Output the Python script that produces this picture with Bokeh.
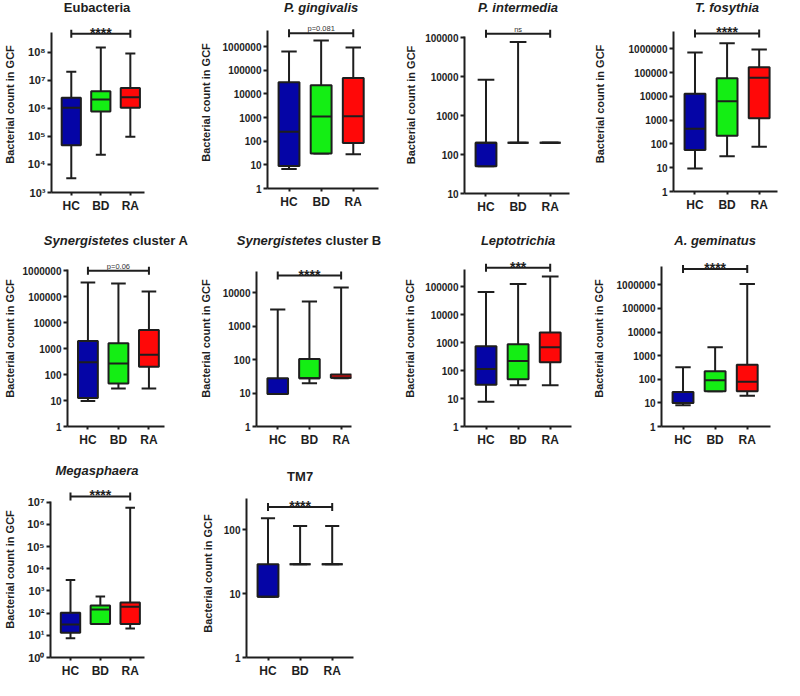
import math
from bokeh.plotting import figure
from bokeh.layouts import column, row
from bokeh.models import Range1d, FixedTicker
from bokeh.core.properties import value
from bokeh.embed import file_html
from bokeh.resources import INLINE

# ---------------- data ----------------
groups = ["HC", "BD", "RA"]
group_colors = ["#0505A6", "#14EE14", "#FF0808"]

titles = ["Eubacteria", "P. gingivalis", "P. intermedia", "T. fosythia",
          "Synergistetes cluster A", "Synergistetes cluster B", "Leptotrichia",
          "A. geminatus", "Megasphaera", "TM7"]

whisker_low = [
    [3200, 22000, 97000],
    [6.6, 30, 28],
    [50, 200, 200],
    [9.3, 30, 76],
    [9.5, 29, 29],
    [9.4, 19.6, 28],
    [7.6, 30, 30],
    [8, 31, 20],
    [7.3, 32, 20],
    [9, 29, 29],
]
q1 = [
    [48000, 770000, 1.05e6],
    [9, 30, 85],
    [50, 200, 200],
    [56, 220, 1200],
    [12.6, 45, 200],
    [9.4, 28, 29],
    [31, 49, 200],
    [10, 31, 31],
    [13, 32, 32],
    [9, 29, 29],
]
median = [
    [1.05e6, 2.05e6, 2.47e6],
    [250, 1100, 1150],
    [200, 200, 200],
    [430, 6200, 61000],
    [300, 265, 585],
    [9.4, 28, 29],
    [115, 218, 690],
    [10, 91, 79],
    [31, 145, 195],
    [9, 29, 29],
]
q3 = [
    [2.35e6, 4.0e6, 5.3e6],
    [31000, 23000, 47000],
    [200, 200, 200],
    [12700, 57000, 166000],
    [1950, 1600, 5250],
    [28, 105, 36],
    [740, 870, 2280],
    [29, 220, 415],
    [105, 220, 300],
    [29, 29, 29],
]
whisker_high = [
    [2.0e7, 1.45e8, 8.8e7],
    [630000, 1.8e6, 930000],
    [8300, 77000, 200],
    [690000, 1.7e6, 940000],
    [350000, 320000, 160000],
    [3200, 5500, 14500],
    [65000, 126000, 230000],
    [320, 2280, 1.07e6],
    [3100, 560, 5.6e6],
    [152, 115, 115],
]
sig_labels = ["****", "p=0.081", "ns", "****", "p=0.06", "****", "***", "****", "****", "****"]
sig_level = [4.5e8, 3.7e6, 1.26e5, 4.4e6, 1.0e6, 3.3e4, 4.8e5, 4.6e6, 1.8e7, 229]

y_tick_lo = [3, 0, 1, 0, 0, 0, 0, 0, 0, 0]   # exponent of lowest tick
y_tick_hi = [8, 6, 5, 6, 6, 4, 5, 6, 7, 2]   # exponent of highest tick
y_tick_power = [True, False, False, False, False, False, False, False, True, False]

y_label = "Bacterial count in GCF"

# ---------------- layout / style ----------------
SUP = str.maketrans("0123456789", "⁰¹²³⁴⁵⁶⁷⁸⁹")
INK = "#1e1e1e"
FONT = "Liberation Sans"
SX = 0.98
COL_W = 196
ROW_REF_H = [222, 240, 238]
ROW_H = [216, 233, 231]

# row, axis-left, axis-right, axis-bottom (ref px in cell), px per decade,
# title y, axis top exponent, y-label standoff, cap half width, italic title, title strip
layout = [
    (0, 44, 147, 197.0, 28.87, 6.7, 8.68, 9, 0.17, False, 16),
    (0, 72, 185, 193.0, 24.3, 6.7, 6.68, 8, 0.24, True, 16),
    (0, 73, 180, 201.7, 40.75, 6.7, 5.03, 5, 0.26, True, 16),
    (0, 87, 193, 196.7, 24.45, 6.7, 6.72, 20, 0.24, True, 16),
    (1, 63, 167, 219.7, 27.2, 25.0, 6.03, 4, 0.24, True, 34),
    (1, 60, 158, 219.0, 35.0, 25.0, 4.65, 8, 0.24, True, 34),
    (1, 73, 182, 216.0, 28.8, 25.0, 5.60, 6, 0.26, True, 34),
    (1, 74, 185, 216.0, 24.33, 25.0, 6.77, 9, 0.24, True, 34),
    (2, 44, 147, 216.7, 23.13, 21.3, 7.03, 8, 0.16, True, 32),
    (2, 51, 160, 214.7, 65.7, 28.0, 2.49, 7, 0.22, False, 40),
]


def make_panel(i):
    r, axl, axr, axb, dec, t_rel, ax_top, standoff, cap, italic, th = layout[i]
    sy = ROW_H[r] / ROW_REF_H[r]
    H = ROW_H[r]
    left = round(axl * SX)
    fw = round((axr - axl) * SX)
    right = COL_W - left - fw
    fb = round(axb * sy)            # frame bottom within the cell
    fh = fb - th
    bottom = H - fb
    ylo = y_tick_lo[i]
    dpx = dec * sy                  # pixels per decade
    top_exp = ylo + fh / dpx
    x0 = -0.67
    x1 = x0 + (axr - axl) / 32.7

    # ---- title strip ----
    tf = figure(width=COL_W, height=th, x_range=Range1d(0, COL_W), y_range=Range1d(th, 0),
                x_axis_location=None, y_axis_location=None, output_backend="svg",
                toolbar_location=None, min_border_left=0, min_border_right=0,
                min_border_top=0, min_border_bottom=0)
    tf.frame_align = False
    tf.grid.visible = False
    tf.outline_line_color = None
    tf.background_fill_color = "white"
    tf.border_fill_color = "white"
    cx = left + (1 - x0) / (x1 - x0) * fw
    cy = t_rel * sy
    t = titles[i]
    fs = 13
    if "cluster" in t:
        first, rest = t.split(" ", 1)
        w_it = 6.558 * fs
        w_sp = 0.278 * fs
        w_b = 4.279 * fs
        total = w_it + w_sp + w_b
        tf.text(x=[cx - total / 2], y=[cy], text=[first], text_align="left",
                text_baseline="middle", text_font=value(FONT), text_font_size=f"{fs}px",
                text_font_style="bold italic", text_color=INK)
        tf.text(x=[cx - total / 2 + w_it + w_sp], y=[cy], text=[rest], text_align="left",
                text_baseline="middle", text_font=value(FONT), text_font_size=f"{fs}px",
                text_font_style="bold", text_color=INK)
    else:
        tf.text(x=[cx], y=[cy], text=[t], text_align="center", text_baseline="middle",
                text_font=value(FONT), text_font_size=f"{fs}px",
                text_font_style="bold italic" if italic else "bold", text_color=INK)

    # ---- plot ----
    p = figure(width=COL_W, height=H - th, x_range=Range1d(x0, x1),
               y_range=Range1d(10 ** ylo, 10 ** top_exp), y_axis_type="log",
               output_backend="svg", toolbar_location=None,
               min_border_left=left, min_border_right=right,
               min_border_top=0, min_border_bottom=bottom)
    p.frame_align = False
    p.xgrid.visible = False
    p.ygrid.visible = False
    p.outline_line_color = None
    p.background_fill_color = "white"
    p.border_fill_color = "white"

    # y axis
    exps = list(range(y_tick_lo[i], y_tick_hi[i] + 1))
    ticks = [10.0 ** k for k in exps]
    yax = p.yaxis[0]
    yax.ticker = FixedTicker(ticks=ticks)
    if y_tick_power[i]:
        yax.major_label_overrides = {tk: "10" + str(k).translate(SUP) for tk, k in zip(ticks, exps)}
    else:
        yax.major_label_overrides = {tk: str(int(round(tk))) for tk in ticks}
    yax.bounds = (10 ** ylo, 10 ** ax_top)
    yax.axis_label = y_label
    yax.axis_label_text_font = FONT
    yax.axis_label_text_font_style = "bold"
    yax.axis_label_text_font_size = "11px"
    yax.axis_label_text_color = INK
    yax.axis_label_standoff = standoff
    yax.major_label_text_font = FONT
    yax.major_label_text_font_style = "bold"
    yax.major_label_text_font_size = "11px" if y_tick_power[i] else "10px"
    yax.major_label_text_color = INK
    yax.major_label_standoff = 2
    yax.axis_line_width = 2
    yax.axis_line_color = INK
    yax.major_tick_line_width = 2
    yax.major_tick_line_color = INK
    yax.major_tick_out = 4
    yax.major_tick_in = 0
    yax.minor_tick_line_color = None

    # x axis
    xax = p.xaxis[0]
    xax.ticker = FixedTicker(ticks=[0, 1, 2])
    xax.major_label_overrides = {k: g for k, g in enumerate(groups)}
    xax.major_label_text_font = FONT
    xax.major_label_text_font_style = "bold"
    xax.major_label_text_font_size = "12px"
    xax.major_label_text_color = INK
    xax.major_label_standoff = 3
    xax.axis_line_width = 2
    xax.axis_line_color = INK
    xax.major_tick_line_width = 2
    xax.major_tick_line_color = INK
    xax.major_tick_out = 3
    xax.major_tick_in = 0
    xax.minor_tick_line_color = None

    xs = [0, 1, 2]
    bw = 0.65
    lo, a, m, b, hi = whisker_low[i], q1[i], median[i], q3[i], whisker_high[i]
    # whiskers
    p.segment(x0=xs, x1=xs, y0=b, y1=hi, line_color=INK, line_width=2)
    p.segment(x0=xs, x1=xs, y0=lo, y1=a, line_color=INK, line_width=2)
    p.segment(x0=[x - cap for x in xs], x1=[x + cap for x in xs], y0=hi, y1=hi,
              line_color=INK, line_width=2)
    p.segment(x0=[x - cap for x in xs], x1=[x + cap for x in xs], y0=lo, y1=lo,
              line_color=INK, line_width=2)
    # boxes
    p.vbar(x=xs, width=bw, bottom=a, top=b, fill_color=group_colors,
           line_color=INK, line_width=2)
    p.segment(x0=[x - bw / 2 for x in xs], x1=[x + bw / 2 for x in xs], y0=m, y1=m,
              line_color=INK, line_width=2)

    # significance bar
    s = sig_level[i]
    p.segment(x0=[0], x1=[2], y0=[s], y1=[s], line_color=INK, line_width=2)
    p.scatter(x=[0, 2], y=[s, s], marker="dash", angle=math.pi / 2, size=8,
              line_color=INK, line_width=2)
    lab = sig_labels[i]
    if lab.startswith("*"):
        ys = s * 10 ** (1.0 / dpx)   # baseline just above the bar
        p.text(x=[1], y=[ys], text=[lab], text_align="center", text_baseline="alphabetic",
               text_font=value(FONT), text_font_size="14px", text_font_style="bold",
               text_color=INK)
    else:
        up = 4.5
        ys = s * 10 ** (up / dpx)
        p.text(x=[1], y=[ys], text=[lab], text_align="center", text_baseline="alphabetic",
               text_font=value(FONT), text_font_size="7.5px", text_color="#333333")
    return column(tf, p, spacing=0)


panels = [make_panel(i) for i in range(len(titles))]
layout_obj = column(
    row(*panels[0:4], spacing=0),
    row(*panels[4:8], spacing=0),
    row(*panels[8:10], spacing=0),
    spacing=0,
)

open("out.html", "w").write(file_html(layout_obj, INLINE))
